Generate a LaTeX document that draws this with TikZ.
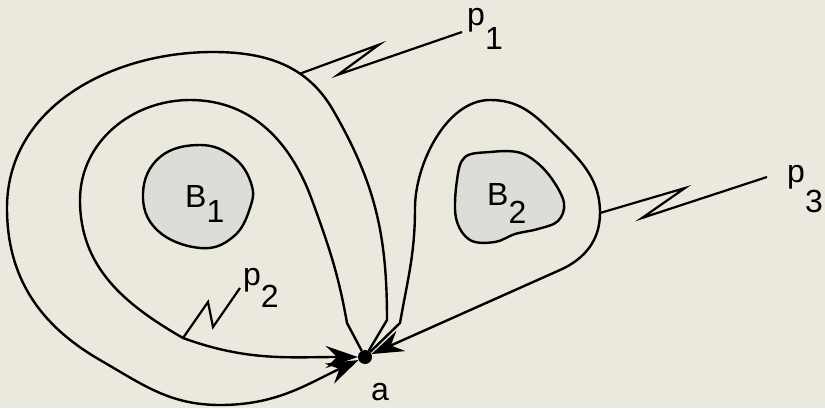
\documentclass[tikz,border=0pt]{standalone}
\usepackage{fontspec}
\setmainfont{Liberation Sans}
\usetikzlibrary{arrows.meta}

\definecolor{paper}{RGB}{235,233,222}
\definecolor{blob}{RGB}{221,221,215}

\begin{document}
\begin{tikzpicture}[
x=1pt,y=1pt,
loop/.style={line width=2.4pt},
arrow/.style={loop,-{Stealth[length=32pt,width=22pt,inset=11pt]}},
zig/.style={line width=2.2pt},
dot/.style={circle,fill,inner sep=0pt,minimum size=14pt},
region/.style={fill=blob,line width=2.4pt},
lbl/.style={font=\fontsize{32}{38}\selectfont,inner sep=0pt,anchor=base west}
]

\useasboundingbox (0,0) rectangle (825,408);
\fill[paper] (0,0) rectangle (825,408);

% obstacles
\draw[region] plot[smooth cycle,tension=0.7] coordinates {
(143,215) (160,251) (200,263) (233,251) (251,225) (250,200) (233,171) (200,160) (157,178)};
\draw[region] plot[smooth cycle,tension=0.6] coordinates {
(457,228) (465,251) (490,256) (517,256) (535,247) (552,229) (564,205) (558,187)
(538,179) (515,174) (495,166) (470,168) (456,190)};

\node[lbl] (b1) at (185,201) {B\raisebox{-15pt}{1}};
\node[lbl] (b2) at (487,203) {B\raisebox{-18pt}{2}};

\node[dot] (a) at (365,51) {};
\node[lbl] (atext) at (371,8) {a};

% loops through a
\draw[arrow] (a) -- (387,88) to[out=90,in=-60] (333,298)
to[out=120,in=0] coordinate[pos=0.35] (p1s) (213,356)
to[out=180,in=90] (7,200) to[out=-90,in=150] (100,48)
to[out=-30,in=180] (220,3) to[out=0,in=205] (a);

\draw[arrow] (a) -- (347,85) to[out=100,in=-70] (312,208)
to[out=110,in=0] (190,308) to[out=180,in=90] (80,208)
to[out=-90,in=150] (183,70) coordinate (p2s) to[out=-20,in=180] (a);

\draw[arrow] (a) -- (400,85) to[out=80,in=-90] (415,200)
to[out=90,in=180,looseness=0.85] (490,308) to[out=0,in=135] (550,278)
to[out=-45,in=90] (600,195) coordinate (p3s)
to[out=-90,in=24] (560,138) -- (a);

% paths p1, p2, p3
\node[lbl] (p1) at (467,382) {p\raisebox{-24pt}{1}};
\node[lbl] (p2) at (243,123) {p\raisebox{-22pt}{2}};
\node[lbl] (p3) at (787,226) {p\raisebox{-30pt}{3}};
\coordinate (p1e) at (462,376);
\coordinate (p2e) at (240,120);
\coordinate (p3e) at (767,231);

\draw[zig] (p1s) -- ++(79,29) -- ++(-41,-30) -- (p1e);
\draw[zig] (p2s) -- ++(25,36) -- ++(5,-25) -- (p2e);
\draw[zig] (p3s) -- ++(85,25) -- ++(-43,-30) -- (p3e);

\end{tikzpicture}
\end{document}
